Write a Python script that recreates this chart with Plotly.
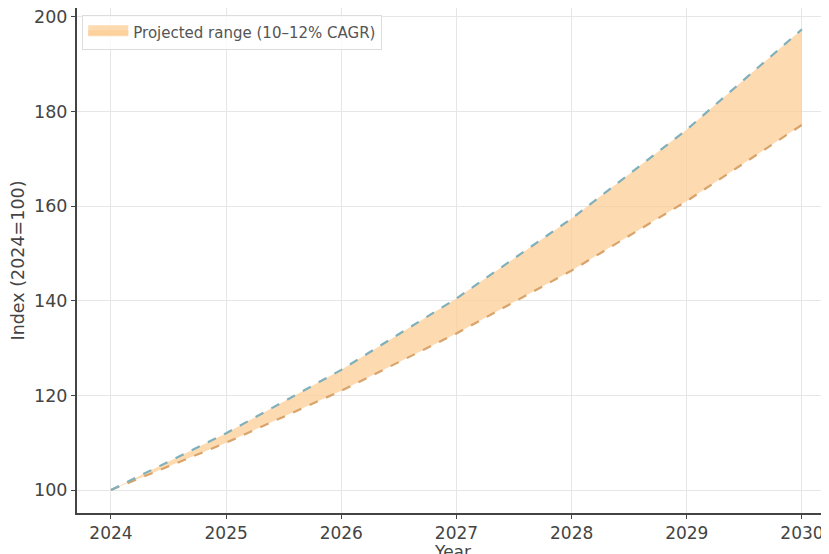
import plotly.graph_objects as go

years = [2024, 2025, 2026, 2027, 2028, 2029, 2030]
low_10 = [100, 110, 121, 133.1, 146.4, 161.1, 177.2]
high_12 = [100, 112, 125.4, 140.5, 157.4, 176.2, 197.4]

FONT = "DejaVu Sans"
fig = go.Figure()
fig.add_trace(go.Scatter(x=years, y=low_10, mode="lines",
                         line=dict(color="#d9a46a", width=2.2, dash="dash"),
                         showlegend=False, hoverinfo="skip"))
fig.add_trace(go.Scatter(x=years, y=high_12, mode="lines", fill="tonexty",
                         fillcolor="rgba(252,206,150,0.75)",
                         line=dict(color="#7fb0bc", width=2.2, dash="dash"),
                         showlegend=False, hoverinfo="skip"))
# legend entry
fig.add_trace(go.Scatter(x=[None], y=[None], mode="lines", fill="toself",
                         fillcolor="rgba(252,206,150,0.75)",
                         line=dict(color="rgba(252,206,150,0.75)", width=10),
                         name="Projected range (10–12% CAGR)"))

fig.update_layout(
    width=829, height=554,
    margin=dict(l=69, r=8, t=0, b=49),
    paper_bgcolor="white", plot_bgcolor="white",
    font=dict(family=FONT, color="#444444", size=17.5),
    legend=dict(x=0.007, y=0.986, xanchor="left", yanchor="top",
                bgcolor="rgba(255,255,255,0.8)", bordercolor="#dddddd", borderwidth=1,
                font=dict(size=15, color="#555555"), itemwidth=40,
                tracegroupgap=0),
    xaxis=dict(range=[2023.705, 2030.235], tickvals=years, ticktext=[str(y) for y in years],
               showgrid=True, gridcolor="#e6e6e6", gridwidth=1,
               showline=True, linecolor="#444444", linewidth=2,
               ticks="outside", ticklen=4, tickcolor="#444444",
               tickfont=dict(size=17), zeroline=False, automargin=False,
               ticklabeloverflow="allow",
               title=dict(text="Year", font=dict(size=17), standoff=4)),
    yaxis=dict(range=[95.14, 201.9], tickvals=[100, 120, 140, 160, 180, 200],
               showgrid=True, gridcolor="#e6e6e6", gridwidth=1,
               showline=True, linecolor="#444444", linewidth=2,
               ticks="outside", ticklen=4, tickcolor="#444444",
               tickfont=dict(size=17.5), zeroline=False, automargin=False,
               ticklabeloverflow="allow",
               title=dict(text="Index (2024=100)", font=dict(size=17.5), standoff=8)),
)
fig.write_html("out.html")
